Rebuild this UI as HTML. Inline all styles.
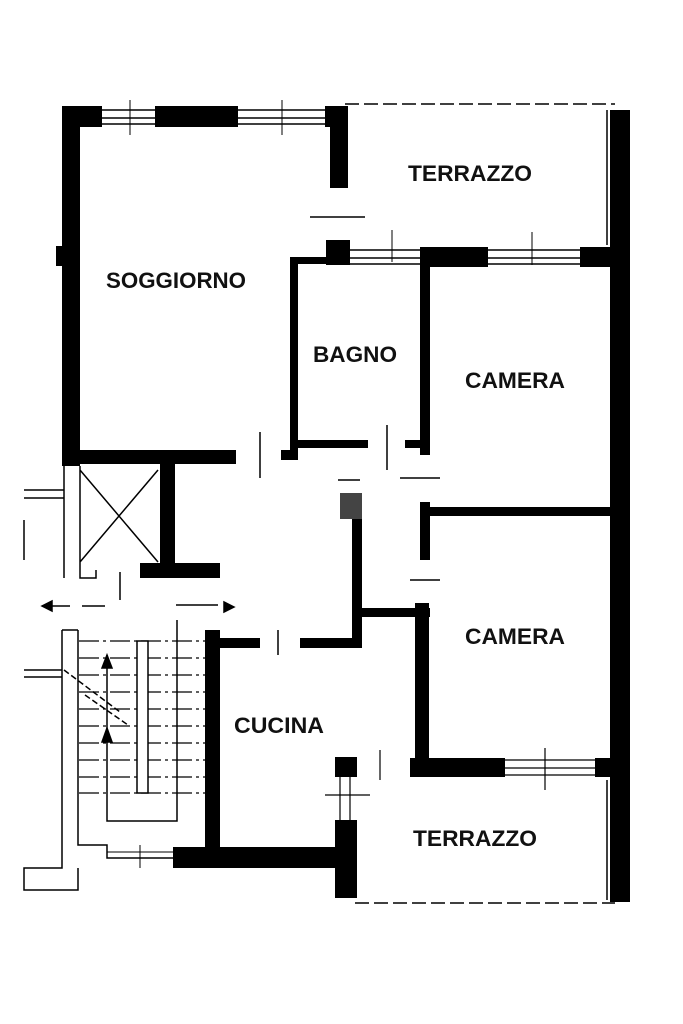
<!DOCTYPE html>
<html><head><meta charset="utf-8"><style>
html,body{margin:0;padding:0;background:#fff;}
svg{display:block}
text{font-family:"Liberation Sans",sans-serif;font-weight:bold;font-size:22px;fill:#111;text-anchor:middle}
</style></head><body>
<svg width="683" height="1024" viewBox="0 0 683 1024" xmlns="http://www.w3.org/2000/svg">
<rect width="683" height="1024" fill="#fff"/>
<g fill="#000">
<rect x="62" y="106" width="40" height="21"/>
<rect x="155" y="106" width="83" height="21"/>
<rect x="325" y="106" width="23" height="21"/>
<rect x="330" y="106" width="18" height="82"/>
<rect x="62" y="106" width="18" height="360"/>
<rect x="56" y="246" width="6" height="20"/>
<rect x="610" y="110" width="20" height="792"/>
<rect x="326" y="240" width="24" height="25"/>
<rect x="420" y="247" width="68" height="20"/>
<rect x="580" y="247" width="50" height="20"/>
<rect x="290" y="257" width="8" height="193"/>
<rect x="290" y="257" width="40" height="7"/>
<rect x="420" y="260" width="10" height="195"/>
<rect x="290" y="440" width="78" height="8"/>
<rect x="405" y="440" width="25" height="8"/>
<rect x="281" y="450" width="17" height="10"/>
<rect x="62" y="450" width="174" height="14"/>
<rect x="160" y="455" width="15" height="120"/>
<rect x="140" y="563" width="80" height="15"/>
<rect x="352" y="500" width="10" height="148"/>
<rect x="340" y="493" width="22" height="26" fill="#444"/>
<rect x="355" y="608" width="75" height="9"/>
<rect x="420" y="502" width="10" height="58"/>
<rect x="420" y="507" width="190" height="9"/>
<rect x="415" y="603" width="14" height="170"/>
<rect x="410" y="758" width="95" height="19"/>
<rect x="595" y="758" width="35" height="19"/>
<rect x="205" y="630" width="15" height="230"/>
<rect x="205" y="638" width="55" height="10"/>
<rect x="300" y="638" width="62" height="10"/>
<rect x="173" y="847" width="184" height="21"/>
<rect x="335" y="757" width="22" height="20"/>
<rect x="335" y="820" width="22" height="78"/>
</g>
<g stroke="#000" fill="none" stroke-width="1.5">
<path d="M102 110H155M102 118H155M102 124H155M238 110H325M238 118H325M238 124H325"/>
<path d="M130 100V135M282 100V135" stroke-width="1"/>
<path d="M345 104H615" stroke-dasharray="14 5"/>
<path d="M607 110V245"/>
<path d="M350 250H420M350 258H420M350 264H420M488 250H580M488 258H580M488 264H580"/>
<path d="M392 230V262M532 232V265" stroke-width="1"/>
<path d="M310 217H365M338 480H360M400 478H440M410 580H440" stroke-width="1.5"/>
<path d="M260 432V478M387 425V470M278 630V655" stroke-width="1.5"/>
<path d="M80 466V578H96V570M80 470L158 562M158 470L80 562M64 466V578M24 490H64M24 498H64M24 520V560M120 572V600"/>
<path d="M42 606H70M82 606H105M176 605H218"/>
<path d="M42 606L52 601V611Z" fill="#000"/>
<path d="M234 607L224 602V612Z" fill="#000"/>
<path d="M62 630V868H24V890H78V868M78 630V845H107V858H173"/>
<path d="M62 630H78"/>
<path d="M24 670H62M24 677H62"/>
<path d="M79 641H205M79 658H205M79 675H205M79 692H205M79 709H205M79 726H205M79 743H205M79 760H205M79 777H205M79 793H205" stroke-width="1.2" stroke-dasharray="20 4 3 4"/>
<path d="M137 641V793H148V641Z" fill="#fff"/>
<path d="M107 655V821H177V620"/>
<path d="M64 670L120 712M85 695L128 725" stroke-dasharray="6 3"/>
<path d="M107 655L102 668H112Z M107 728L102 742H112Z" fill="#000"/>
<path d="M107 858H173M107 852H173M140 845V868" stroke-width="1"/>
<path d="M505 760H595M505 768H595M505 775H595M545 748V790" stroke-width="1.2"/>
<path d="M340 777V820M350 777V820M325 795H370M380 750V780" stroke-width="1.2"/>
<path d="M355 903H615" stroke-dasharray="14 5"/>
<path d="M607 780V900"/>
</g>
<text x="470" y="181" textLength="124" lengthAdjust="spacingAndGlyphs">TERRAZZO</text>
<text x="176" y="288" textLength="140" lengthAdjust="spacingAndGlyphs">SOGGIORNO</text>
<text x="355" y="362" textLength="84" lengthAdjust="spacingAndGlyphs">BAGNO</text>
<text x="515" y="388" textLength="100" lengthAdjust="spacingAndGlyphs">CAMERA</text>
<text x="515" y="644" textLength="100" lengthAdjust="spacingAndGlyphs">CAMERA</text>
<text x="279" y="733" textLength="90" lengthAdjust="spacingAndGlyphs">CUCINA</text>
<text x="475" y="846" textLength="124" lengthAdjust="spacingAndGlyphs">TERRAZZO</text>
</svg>
</body></html>
